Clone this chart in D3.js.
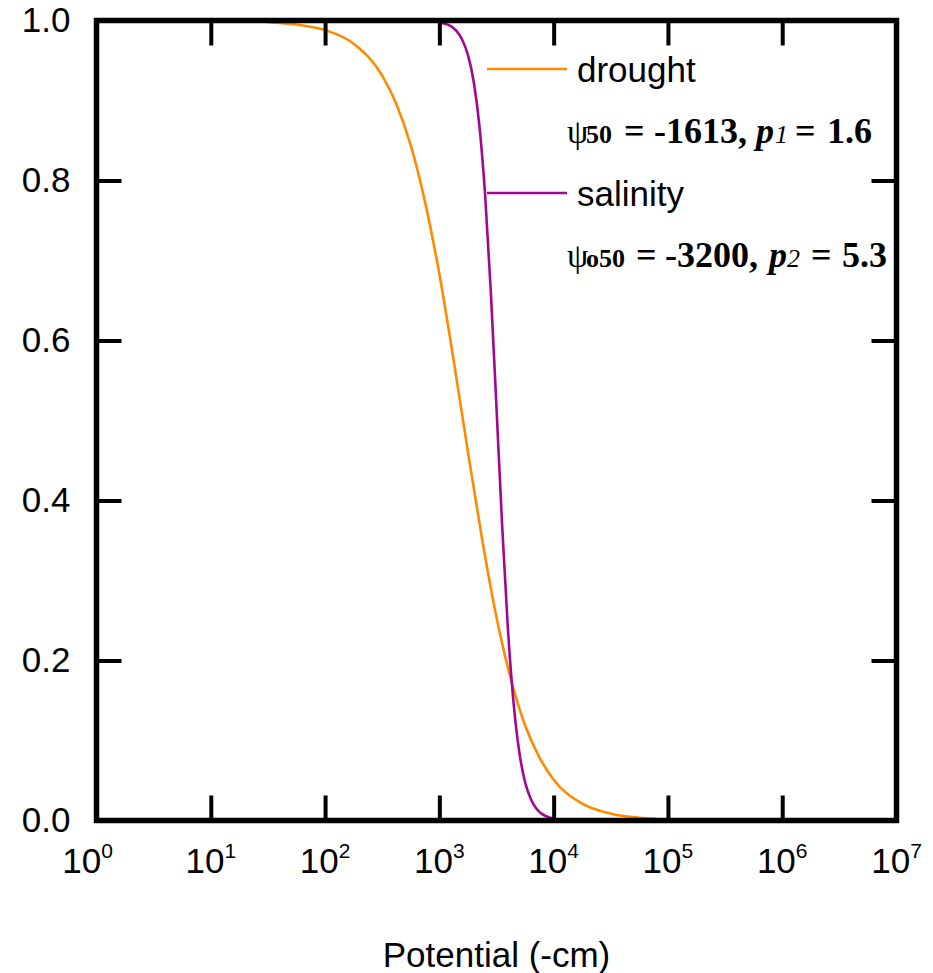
<!DOCTYPE html>
<html>
<head>
<meta charset="utf-8">
<script src="https://cdn.jsdelivr.net/npm/d3@7"></script>
<style>
  body { margin: 0; background: #fff; }
  svg { display: block; }
</style>
</head>
<body>
<svg id="chart" width="933" height="973"></svg>
<script>
// Relative response vs. soil water potential (-cm)
const droughtPotential = [31.6, 56.2, 100, 178, 316, 422, 562, 750, 1000, 1334, 1778, 2371, 3162, 4217, 5623, 7499, 10000, 17783, 31623, 56234, 79433];
const droughtResponse  = [0.998, 0.995, 0.988, 0.971, 0.931, 0.895, 0.844, 0.773, 0.683, 0.575, 0.461, 0.351, 0.254, 0.177, 0.119, 0.079, 0.051, 0.021, 0.0085, 0.0034, 0.002];

const salinityPotential = [1050, 1122, 1259, 1413, 1585, 1778, 1995, 2239, 2512, 2818, 3162, 3548, 3981, 4467, 5012, 5623, 6310, 7079, 7943, 8913, 10000];
const salinityResponse  = [0.997, 0.996, 0.993, 0.987, 0.976, 0.957, 0.924, 0.869, 0.783, 0.662, 0.516, 0.367, 0.239, 0.146, 0.085, 0.048, 0.027, 0.0147, 0.008, 0.0044, 0.0024];

const seriesNames  = ["drought", "salinity"];
const seriesColors = ["#ff8a00", "#a2088e"];

const xTickExponents = [0, 1, 2, 3, 4, 5, 6, 7];
const yTickValues    = [0, 0.2, 0.4, 0.6, 0.8, 1.0];
const xTitle = "Potential (-cm)";

const svg = d3.select("#chart");
const plotLeft = 96.5, plotRight = 896.5, plotTop = 20.5, plotBottom = 820.5;

const x = d3.scaleLog().domain([1, 1e7]).range([plotLeft, plotRight]);
const y = d3.scaleLinear().domain([0, 1]).range([plotBottom, plotTop]);

const series = [
  { name: seriesNames[0], color: seriesColors[0],
    points: droughtPotential.map((h, i) => [h, droughtResponse[i]]) },
  { name: seriesNames[1], color: seriesColors[1],
    points: salinityPotential.map((h, i) => [h, salinityResponse[i]]) }
];

// curves
const line = d3.line()
  .x(d => x(d[0]))
  .y(d => y(d[1]))
  .curve(d3.curveMonotoneX);

svg.append("g").selectAll("path")
  .data(series)
  .join("path")
  .attr("d", d => line(d.points))
  .attr("fill", "none")
  .attr("stroke", d => d.color)
  .attr("stroke-width", 2.6)
  .attr("stroke-linejoin", "round");

// inward ticks on all four sides
const xTickVals = xTickExponents.map(e => Math.pow(10, e));
const tickLen = 25;

function styleAxis(g) {
  g.select(".domain").remove();
  g.selectAll(".tick line").attr("stroke", "#000").attr("stroke-width", 4);
}

svg.append("g").attr("transform", `translate(0,${plotBottom})`)
  .call(d3.axisBottom(x).tickValues(xTickVals).tickSize(-tickLen).tickFormat(""))
  .call(styleAxis);
svg.append("g").attr("transform", `translate(0,${plotTop})`)
  .call(d3.axisTop(x).tickValues(xTickVals).tickSize(-tickLen).tickFormat(""))
  .call(styleAxis);
svg.append("g").attr("transform", `translate(${plotRight},0)`)
  .call(d3.axisRight(y).tickValues(yTickValues).tickSize(-tickLen).tickFormat(""))
  .call(styleAxis);

const yAxis = svg.append("g").attr("transform", `translate(${plotLeft},0)`)
  .call(d3.axisLeft(y).tickValues(yTickValues).tickSize(-tickLen).tickPadding(26).tickFormat(d3.format(".1f")))
  .call(styleAxis);
yAxis.selectAll(".tick text")
  .attr("font-family", "Liberation Sans, Arial, sans-serif")
  .attr("font-size", 35)
  .attr("fill", "#000");

// frame
svg.append("rect")
  .attr("x", plotLeft).attr("y", plotTop)
  .attr("width", plotRight - plotLeft).attr("height", plotBottom - plotTop)
  .attr("fill", "none").attr("stroke", "#000").attr("stroke-width", 5.5);

// x tick labels as powers of ten
const xLabels = svg.append("g")
  .attr("font-family", "Liberation Sans, Arial, sans-serif")
  .attr("fill", "#000");
xTickExponents.forEach(e => {
  const t = xLabels.append("text")
    .attr("x", x(Math.pow(10, e)) - (e === 0 ? 9 : 0))
    .attr("y", 873)
    .attr("text-anchor", "middle")
    .attr("font-size", 35);
  t.append("tspan").text("10");
  t.append("tspan").attr("font-size", 21).attr("dy", -15).text(String(e));
});

// x axis title
svg.append("text")
  .attr("x", (plotLeft + plotRight) / 2)
  .attr("y", 967)
  .attr("text-anchor", "middle")
  .attr("font-family", "Liberation Sans, Arial, sans-serif")
  .attr("font-size", 35)
  .attr("fill", "#000")
  .text(xTitle);

// legend with fitted parameters
const legendY = [69, 193];
const legend = svg.append("g");
series.forEach((s, i) => {
  legend.append("line")
    .attr("x1", 487).attr("x2", 567)
    .attr("y1", legendY[i]).attr("y2", legendY[i])
    .attr("stroke", s.color).attr("stroke-width", 2.6);
  legend.append("text")
    .attr("x", 577).attr("y", legendY[i] + 13)
    .attr("font-family", "Liberation Sans, Arial, sans-serif")
    .attr("font-size", 35)
    .attr("fill", "#000")
    .text(s.name);
});

// parameter annotations: ψ, subscript, "=", value, p, subscript, "=", value
const paramLines = [
  { y: 143, sub: "50",  value: "-1613,", psub: "1", pval: "1.6",
    xs: [567, 586, 624, 654, 756, 775, 795, 827] },
  { y: 267, sub: "o50", value: "-3200,", psub: "2", pval: "5.3",
    xs: [567, 586, 636, 665, 769, 787, 811, 842] }
];
paramLines.forEach(pl => {
  const t = legend.append("text")
    .attr("y", pl.y)
    .attr("font-family", "Liberation Serif, 'Times New Roman', serif")
    .attr("font-size", 36)
    .attr("font-weight", "bold")
    .attr("fill", "#000");
  t.append("tspan").attr("x", pl.xs[0]).attr("font-weight", "normal").attr("font-size", 34).text("ψ");
  t.append("tspan").attr("x", pl.xs[1]).attr("font-size", 26).text(pl.sub);
  t.append("tspan").attr("x", pl.xs[2]).text("=");
  t.append("tspan").attr("x", pl.xs[3]).text(pl.value);
  t.append("tspan").attr("x", pl.xs[4]).attr("font-style", "italic").text("p");
  t.append("tspan").attr("x", pl.xs[5]).attr("font-style", "italic").attr("font-weight", "normal").attr("font-size", 26).text(pl.psub);
  t.append("tspan").attr("x", pl.xs[6]).text("=");
  t.append("tspan").attr("x", pl.xs[7]).text(pl.pval);
});
</script>
</body>
</html>
